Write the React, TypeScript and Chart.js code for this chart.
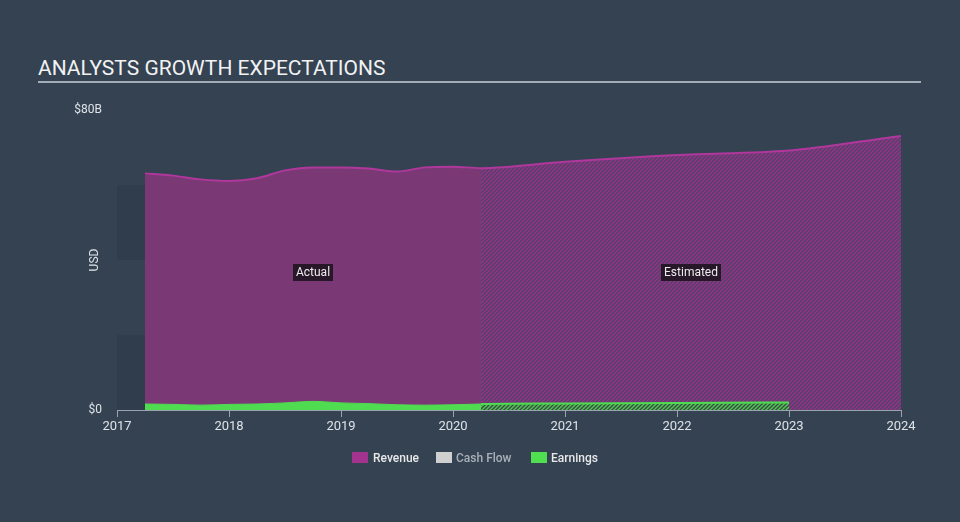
import React, { useEffect, useRef } from "react";
import { Chart, registerables } from "chart.js";

Chart.register(...registerables);

// ---- data ----
const yearTicks = [2017, 2018, 2019, 2020, 2021, 2022, 2023, 2024];
const yTickValues = [0, 80];
const yTickLabels = ["$0", "$80B"];

const estimateStart = 2020.25;

const revenueX = [2017.25, 2017.5, 2017.75, 2018.0, 2018.25, 2018.5, 2018.75, 2019.0, 2019.25, 2019.5, 2019.75, 2020.0, 2020.25, 2021.0, 2022.0, 2023.0, 2023.5, 2024.0];
const revenueY = [63.1, 62.5, 61.5, 61.1, 61.8, 63.9, 64.7, 64.7, 64.4, 63.6, 64.7, 64.9, 64.5, 66.2, 68.0, 69.2, 71.0, 73.1];

const earningsX = [2017.25, 2017.5, 2017.75, 2018.0, 2018.25, 2018.5, 2018.75, 2019.0, 2019.25, 2019.5, 2019.75, 2020.0, 2020.25, 2021.0, 2022.0, 2023.0];
const earningsY = [1.6, 1.5, 1.3, 1.5, 1.6, 1.9, 2.3, 1.9, 1.7, 1.4, 1.3, 1.4, 1.6, 1.75, 1.9, 2.0];

const sectionLabels = ["Actual", "Estimated"];
const sectionCenters = [(2017.25 + 2020.25) / 2, (2020.25 + 2024.0) / 2];
const sectionLabelValue = 36.8;

const legendItems = [
  { label: "Revenue", color: "#a4338f", text: "#e8e8e8", sq: 352, tx: 373 },
  { label: "Cash Flow", color: "#d0d0d0", text: "#a9b0b8", sq: 436, tx: 456 },
  { label: "Earnings", color: "#50df50", text: "#e8e8e8", sq: 531, tx: 551 },
];

const BG = "#344252";
const FONT = "Roboto, 'Noto Sans', sans-serif";

function zip(xs: number[], ys: number[]) {
  return xs.map((x, i) => ({ x, y: ys[i] }));
}

function makePattern(bg: string, fg: string, size: number, lw: number): CanvasPattern | string {
  const c = document.createElement("canvas");
  c.width = size;
  c.height = size;
  const g = c.getContext("2d");
  if (!g) return bg;
  g.fillStyle = bg;
  g.fillRect(0, 0, size, size);
  g.strokeStyle = fg;
  g.lineWidth = lw;
  g.beginPath();
  g.moveTo(-1, size + 1);
  g.lineTo(size + 1, -1);
  g.moveTo(-1, 1);
  g.lineTo(1, -1);
  g.moveTo(size - 1, size + 1);
  g.lineTo(size + 1, size - 1);
  g.stroke();
  const p = g.createPattern(c, "repeat");
  return p || bg;
}

const bandsPlugin = {
  id: "bands",
  beforeDatasetsDraw(chart: any) {
    const { ctx, chartArea, scales } = chart;
    const y = scales.y;
    ctx.save();
    ctx.fillStyle = "rgba(20,28,38,0.12)";
    [[0, 20], [40, 60]].forEach(([a, b]) => {
      const top = y.getPixelForValue(b);
      const bot = y.getPixelForValue(a);
      ctx.fillRect(chartArea.left, top, chartArea.right - chartArea.left, bot - top);
    });
    ctx.restore();
  },
};

const overlayPlugin = {
  id: "overlay",
  afterDatasetsDraw(chart: any) {
    const { ctx, scales } = chart;
    const x = scales.x;
    const y = scales.y;
    ctx.save();
    ctx.font = `12px ${FONT}`;
    ctx.textBaseline = "middle";
    ctx.textAlign = "center";
    sectionLabels.forEach((lab, i) => {
      const cx = x.getPixelForValue(sectionCenters[i]);
      const cy = y.getPixelForValue(sectionLabelValue);
      const w = ctx.measureText(lab).width + 6;
      const h = 17;
      ctx.fillStyle = "rgba(28,18,30,0.88)";
      ctx.fillRect(Math.round(cx - w / 2), Math.round(cy - h / 2), Math.round(w), h);
      ctx.fillStyle = "#ececec";
      ctx.fillText(lab, cx, cy + 0.5);
    });
    ctx.translate(95, (y.top + y.bottom) / 2);
    ctx.rotate(-Math.PI / 2);
    ctx.fillStyle = "#dfe3e8";
    ctx.font = `12px ${FONT}`;
    ctx.fillText("USD", 0, 0);
    ctx.restore();
  },
};

export default function App() {
  const ref = useRef<HTMLCanvasElement>(null);

  useEffect(() => {
    const canvas = ref.current;
    if (!canvas) return;
    const ctx = canvas.getContext("2d");
    if (!ctx) return;

    const revSolid = "rgb(122,57,117)";
    const revHatch = makePattern("rgb(78,66,102)", "rgb(150,50,136)", 4, 1.5);
    const earnSolid = "#50dc50";
    const earnHatch = makePattern("rgb(58,78,72)", "rgb(80,200,80)", 4, 1.4);
    const isEst = (c: any) => c.p0.parsed.x >= estimateStart - 1e-9;

    const chart = new Chart(ctx, {
      type: "line",
      data: {
        datasets: [
          {
            label: "Earnings",
            data: zip(earningsX, earningsY),
            backgroundColor: earnSolid,
            borderColor: earnSolid,
            borderWidth: 1,
            fill: "origin",
            pointRadius: 0,
            cubicInterpolationMode: "monotone",
            segment: {
              backgroundColor: (c: any) => (isEst(c) ? earnHatch : earnSolid),
              borderWidth: (c: any) => (isEst(c) ? 2 : 1),
            },
          },
          {
            label: "Revenue",
            data: zip(revenueX, revenueY),
            backgroundColor: revSolid,
            borderColor: "#b0379c",
            borderWidth: 2,
            fill: "origin",
            pointRadius: 0,
            cubicInterpolationMode: "monotone",
            segment: {
              backgroundColor: (c: any) => (isEst(c) ? revHatch : revSolid),
            },
          },
        ],
      },
      options: {
        animation: false,
        responsive: false,
        devicePixelRatio: 1,
        events: [],
        layout: { padding: { left: 0, right: 59, top: 110, bottom: 0 } },
        plugins: {
          legend: { display: false },
          tooltip: { enabled: false },
          title: { display: false },
        },
        scales: {
          x: {
            type: "linear",
            min: 2017,
            max: 2024,
            afterBuildTicks: (scale: any) => {
              scale.ticks = yearTicks.map((v) => ({ value: v }));
            },
            afterFit: (scale: any) => {
              scale.height = 112;
            },
            ticks: {
              color: "#dfe3e8",
              font: { size: 13, family: FONT },
              padding: 2,
              maxRotation: 0,
              autoSkip: false,
              callback: (v: any) => String(v),
            },
            grid: {
              display: true,
              drawOnChartArea: false,
              drawTicks: true,
              tickLength: 7,
              color: "#9aa4ae",
              lineWidth: 1,
            },
            border: { display: true, color: "#9aa4ae", width: 1 },
          },
          y: {
            type: "linear",
            min: 0,
            max: 80,
            afterBuildTicks: (scale: any) => {
              scale.ticks = yTickValues.map((v) => ({ value: v }));
            },
            afterFit: (scale: any) => {
              scale.width = 117;
            },
            ticks: {
              color: "#dfe3e8",
              font: { size: 12, family: FONT },
              padding: 15,
              callback: (v: any) => yTickLabels[yTickValues.indexOf(Number(v))] ?? "",
            },
            grid: { display: false, drawTicks: false },
            border: { display: false },
          },
        },
      },
      plugins: [bandsPlugin, overlayPlugin],
    } as any);

    return () => chart.destroy();
  }, []);

  return (
    <div
      style={{
        position: "fixed",
        left: 0,
        top: 0,
        width: 960,
        height: 522,
        background: BG,
        overflow: "hidden",
        fontFamily: FONT,
      }}
    >
      <div
        style={{
          position: "absolute",
          left: 38,
          top: 56,
          fontSize: 21,
          color: "#f2f2f2",
          lineHeight: "24px",
          whiteSpace: "nowrap",
        }}
      >
        ANALYSTS GROWTH EXPECTATIONS
      </div>
      <div
        style={{
          position: "absolute",
          left: 38,
          top: 81,
          width: 883,
          height: 2,
          background: "#a3adb8",
        }}
      />
      <canvas
        ref={ref}
        width={960}
        height={522}
        style={{ position: "absolute", left: 0, top: 0, width: 960, height: 522 }}
      />
      {legendItems.map((it) => (
        <React.Fragment key={it.label}>
          <div
            style={{
              position: "absolute",
              left: it.sq,
              top: 452,
              width: 16,
              height: 11,
              background: it.color,
            }}
          />
          <div
            style={{
              position: "absolute",
              left: it.tx,
              top: 450,
              fontSize: 12,
              fontWeight: 500,
              color: it.text,
              lineHeight: "16px",
              whiteSpace: "nowrap",
            }}
          >
            {it.label}
          </div>
        </React.Fragment>
      ))}
    </div>
  );
}
